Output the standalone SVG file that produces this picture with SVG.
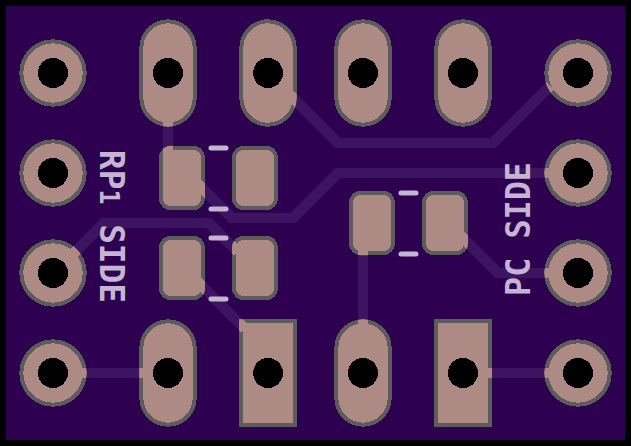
<svg xmlns="http://www.w3.org/2000/svg" width="631" height="446" viewBox="0 0 631 446">
<style>
.gfx{shape-rendering:crispEdges}
#connectors{fill:none;stroke:#3d1460;stroke-width:10}
#stubs{fill:none;stroke:#ae8a84;stroke-width:10}
.pad{fill:#ae8a84;stroke:#5c5c5c;stroke-width:4}
.hole{fill:#000;stroke:none}
.silk{fill:none;stroke:#c4b5d3;stroke-width:5;stroke-linecap:round}
.lbl{font-family:"DejaVu Sans Mono",monospace;font-weight:bold;font-size:34px;fill:#c4b5d3}
</style>
<defs>
<circle id="round" class="pad" r="31.7"/>
<rect id="oval" class="pad" x="-26.7" y="-51.7" width="53.4" height="103.4" rx="26.7" ry="26.7"/>
<rect id="square" class="pad" x="-27" y="-51.7" width="54" height="103.4"/>
<rect id="smd" class="pad" x="-21" y="-30.2" width="42" height="60.4" rx="10" ry="10"/>
<circle id="drill" class="hole" r="15"/>
<g id="traces">
<path d="M168 120V155"/>
<path d="M288 93L338 143H493L550 86"/>
<path d="M198 184L232 218H293L338 173H550"/>
<path d="M72 255L104 223H209L238 252"/>
<path d="M198 282L245 329"/>
<path d="M460 235L498 273H550"/>
<path d="M80 373H145"/>
<path d="M363 250V325"/>
<path d="M485 373H550"/>
</g>
<clipPath id="padclip">
<circle cx="53" cy="73" r="33.7"/><circle cx="53" cy="173" r="33.7"/><circle cx="53" cy="273" r="33.7"/><circle cx="53" cy="373" r="33.7"/>
<circle cx="578" cy="73" r="33.7"/><circle cx="578" cy="173" r="33.7"/><circle cx="578" cy="273" r="33.7"/><circle cx="578" cy="373" r="33.7"/>
<rect x="139.3" y="19.3" width="57.4" height="107.4" rx="28.7" ry="28.7"/>
<rect x="239.3" y="19.3" width="57.4" height="107.4" rx="28.7" ry="28.7"/>
<rect x="139.3" y="319.3" width="57.4" height="107.4" rx="28.7" ry="28.7"/>
<rect x="334.3" y="319.3" width="57.4" height="107.4" rx="28.7" ry="28.7"/>
<rect x="239" y="319.3" width="58" height="107.4"/>
<rect x="434" y="319.3" width="58" height="107.4"/>
<rect x="159" y="145.8" width="46" height="64.4" rx="12" ry="12"/>
<rect x="232" y="145.8" width="46" height="64.4" rx="12" ry="12"/>
<rect x="159" y="235.8" width="46" height="64.4" rx="12" ry="12"/>
<rect x="232" y="235.8" width="46" height="64.4" rx="12" ry="12"/>
<rect x="349" y="190.8" width="46" height="64.4" rx="12" ry="12"/>
<rect x="422" y="190.8" width="46" height="64.4" rx="12" ry="12"/>
</clipPath>
</defs>
<rect width="631" height="446" fill="#fff"/>
<rect id="board" class="gfx" x="3" y="3" width="625" height="440" fill="#2e0050" stroke="#000" stroke-width="6"/>
<path class="gfx" d="M0 0h3v3h-3zM628 0h3v3h-3zM0 443h3v3h-3zM628 443h3v3h-3z" fill="#000"/>
<g id="connectors" class="gfx"><use href="#traces"/></g>
<g id="P1" class="gfx"><use href="#round" x="53" y="73"/></g>
<g id="P2" class="gfx"><use href="#round" x="53" y="173"/></g>
<g id="P3" class="gfx"><use href="#round" x="53" y="273"/></g>
<g id="P4" class="gfx"><use href="#round" x="53" y="373"/></g>
<g id="P5" class="gfx"><use href="#round" x="578" y="73"/></g>
<g id="P6" class="gfx"><use href="#round" x="578" y="173"/></g>
<g id="P7" class="gfx"><use href="#round" x="578" y="273"/></g>
<g id="P8" class="gfx"><use href="#round" x="578" y="373"/></g>
<g id="J1" class="gfx"><use href="#oval" x="168" y="73"/></g>
<g id="J2" class="gfx"><use href="#oval" x="268" y="73"/></g>
<g id="J3" class="gfx"><use href="#oval" x="363" y="73"/></g>
<g id="J4" class="gfx"><use href="#oval" x="463" y="73"/></g>
<g id="J5" class="gfx"><use href="#oval" x="168" y="373"/></g>
<g id="J6" class="gfx"><use href="#square" x="268" y="373"/></g>
<g id="J7" class="gfx"><use href="#oval" x="363" y="373"/></g>
<g id="J8" class="gfx"><use href="#square" x="463" y="373"/></g>
<g id="R1" class="gfx"><use href="#smd" x="182" y="178"/><use href="#smd" x="255" y="178"/></g>
<g id="R2" class="gfx"><use href="#smd" x="182" y="268"/><use href="#smd" x="255" y="268"/></g>
<g id="R3" class="gfx"><use href="#smd" x="372" y="223"/><use href="#smd" x="445" y="223"/></g>
<g id="stubs" class="gfx" clip-path="url(#padclip)"><use href="#traces"/></g>
<g id="drills" class="gfx">
<use href="#drill" x="53" y="73"/><use href="#drill" x="53" y="173"/><use href="#drill" x="53" y="273"/><use href="#drill" x="53" y="373"/>
<use href="#drill" x="578" y="73"/><use href="#drill" x="578" y="173"/><use href="#drill" x="578" y="273"/><use href="#drill" x="578" y="373"/>
<use href="#drill" x="168" y="73"/><use href="#drill" x="268" y="73"/><use href="#drill" x="363" y="73"/><use href="#drill" x="463" y="73"/>
<use href="#drill" x="168" y="373"/><use href="#drill" x="268" y="373"/><use href="#drill" x="363" y="373"/><use href="#drill" x="463" y="373"/>
</g>
<g id="silk">
<path class="silk" d="M211 148H226M211 209H226M211 238H226M211 299H226M401 193H416M401 254H416"/>
</g>
<g id="labels">
<text class="lbl" transform="translate(100 150) rotate(90)" textLength="153" lengthAdjust="spacingAndGlyphs">RP<tspan font-size="26">1</tspan> SIDE</text>
<text class="lbl" transform="translate(530 296) rotate(-90)" textLength="134" lengthAdjust="spacingAndGlyphs">PC SIDE</text>
</g>
</svg>
